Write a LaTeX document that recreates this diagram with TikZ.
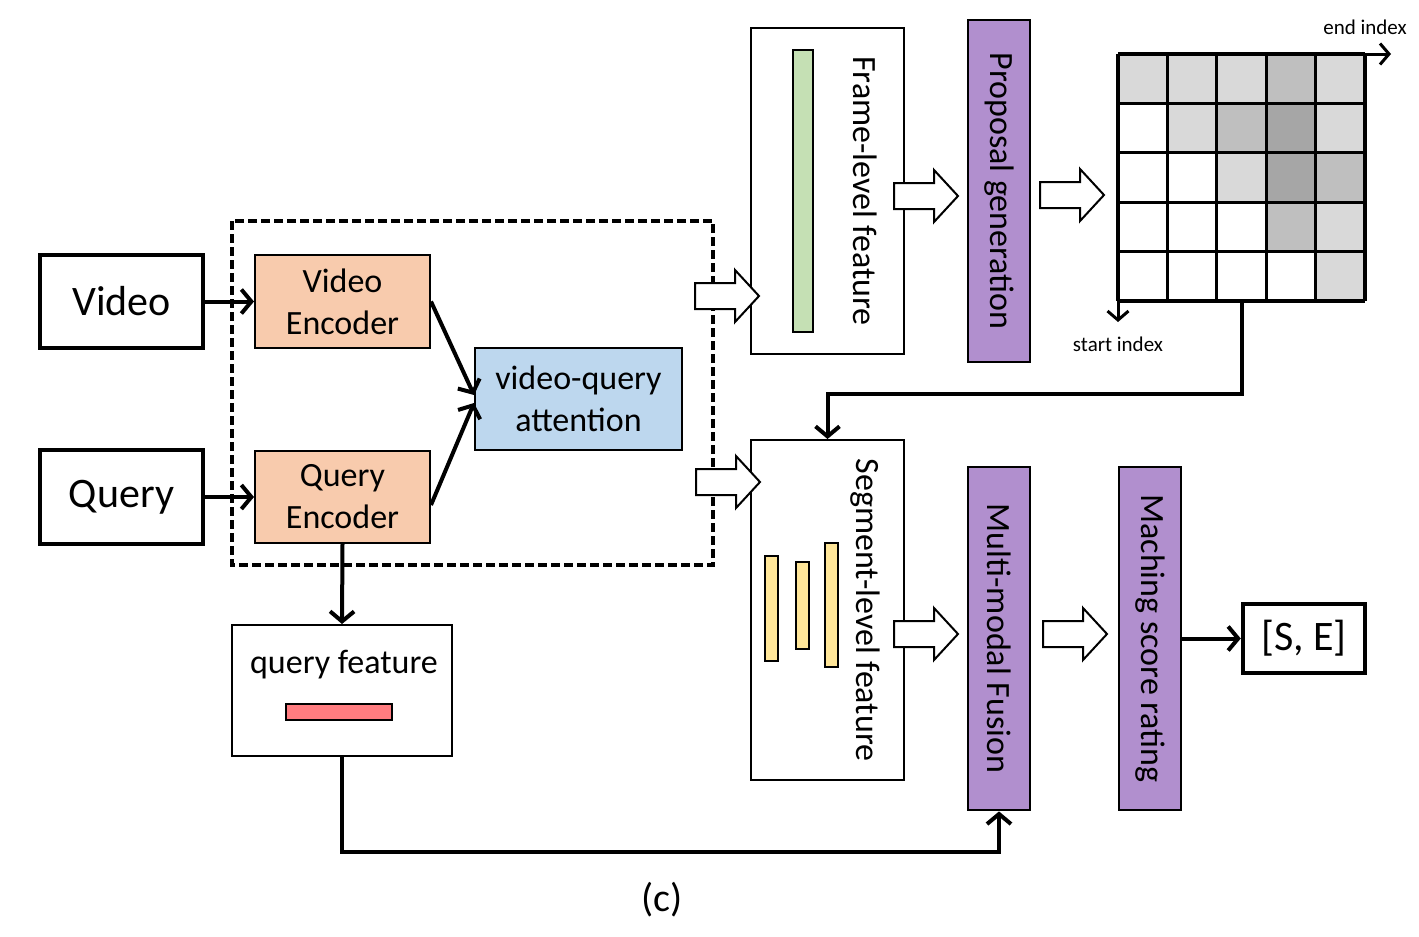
\documentclass[tikz,border=0pt]{standalone}
\usepackage{fontspec}
\setmainfont{Carlito}
\usepackage{graphicx}
\usetikzlibrary{arrows.meta}
\definecolor{encfill}{HTML}{F8CBAD}
\definecolor{attfill}{HTML}{BDD7EE}
\definecolor{framefill}{HTML}{C5E0B4}
\definecolor{segfill}{HTML}{FFE699}
\definecolor{stepfill}{HTML}{B18FCE}
\definecolor{qfill}{HTML}{FF7C80}
\definecolor{g1}{HTML}{D9D9D9}
\definecolor{g2}{HTML}{BFBFBF}
\definecolor{g3}{HTML}{A6A6A6}
\newcommand{\hollowarrow}[2]{\draw[line width=2pt, fill=white] (#1,#2-13) -- ++(40,0) -- ++(0,-13) -- ++(24,26) -- ++(-24,26) -- ++(0,-13) -- ++(-40,0) -- cycle;}

\begin{document}
\begin{tikzpicture}[x=1pt,y=-1pt,
    bigbox/.style={draw, line width=4.5pt, inner sep=0pt, font=\fontsize{42}{48}\selectfont},
    smallbox/.style={draw, line width=2pt, inner sep=0pt, align=center, font=\fontsize{34}{42}\selectfont},
    stepbox/.style={draw, line width=2.8pt, fill=stepfill, inner sep=0pt, minimum width=62, font=\fontsize{34}{42}\selectfont},
    bar/.style={draw, line width=2.4pt, inner sep=0pt},
    arr/.style={line width=4pt, -{Straight Barb[length=10pt,width=24pt]}},
    dashbox/.style={line width=3.5pt, dash pattern=on 9pt off 4pt}]
  \useasboundingbox (0,0) rectangle (1419,937);

  % inputs and encoders
  \node (vid) at (121.5,301.5) [bigbox, minimum width=163, minimum height=93] {Video};
  \node (qry) at (121.5,497) [bigbox, minimum width=163, minimum height=94] {Query};
  \node (venc) at (342.5,301.5) [smallbox, fill=encfill, minimum width=175, minimum height=93] {Video\\Encoder};
  \node (qenc) at (342.5,497) [smallbox, fill=encfill, minimum width=175, minimum height=92] {Query\\Encoder};
  \node (att) at (578.5,399) [smallbox, fill=attfill, minimum width=207, minimum height=102] {video-query\\attention};
  \draw[dashbox] (232,221) rectangle (713,565);

  % query feature
  \node (qf) at (342,690.5) [smallbox, minimum width=220, minimum height=131] {};
  \node (qflabel) at (344,665) [font=\fontsize{34}{42}\selectfont] {query feature};
  \node (qbar) at (339,712) [bar, fill=qfill, minimum width=106, minimum height=16] {};

  % frame-level branch
  \node (frame) at (827.5,191) [smallbox, minimum width=153, minimum height=326] {};
  \node (fbar) at (803,191) [bar, fill=framefill, minimum width=20, minimum height=282] {};
  \node (flabel) at (865,191) [font=\fontsize{34}{42}\selectfont] {\rotatebox{-90}{Frame-level feature}};
  \node (prop) at (999,191) [stepbox, minimum height=342] {\rotatebox{-90}{Proposal generation}};

  % segment-level branch
  \node (seg) at (827.5,610) [smallbox, minimum width=153, minimum height=340] {};
  \node (sbar1) at (771.5,608.5) [bar, fill=segfill, minimum width=13, minimum height=105] {};
  \node (sbar2) at (802.5,605.5) [bar, fill=segfill, minimum width=13, minimum height=87] {};
  \node (sbar3) at (831.5,605) [bar, fill=segfill, minimum width=13, minimum height=124] {};
  \node (slabel) at (865,610) [font=\fontsize{34}{42}\selectfont] {\rotatebox{-90}{Segment-level feature}};
  \node (fus) at (999,638.5) [stepbox, minimum height=343] {\rotatebox{-90}{Multi-modal Fusion}};
  \node (rate) at (1150,638.5) [stepbox, minimum height=343] {\rotatebox{-90}{Maching score rating}};
  \node (se) at (1304,638.5) [bigbox, minimum width=122, minimum height=69] {[S, E]};

  % proposal map
  \foreach \shades [count=\r from 0] in {{g1,g1,g1,g2,g1},{white,g1,g2,g3,g1},{white,white,g1,g3,g2},{white,white,white,g2,g1},{white,white,white,white,g1}}
    \foreach \s [count=\c from 0] in \shades
      \fill[\s] (1118+49.4*\c,54+49.4*\r) rectangle ++(49.4,49.4);
  \foreach \i in {0,...,5} {
    \draw[line width=3.2pt] (1118+49.4*\i,54) -- (1118+49.4*\i,301);
    \draw[line width=3.2pt] (1118,54+49.4*\i) -- (1365,54+49.4*\i);
  }
  \coordinate (gridNE) at (1365,54);
  \coordinate (endtip) at (1391,54);
  \coordinate (gridSW) at (1118,301);
  \coordinate (starttip) at (1118,322);
  \coordinate (gridout) at (1242,301);
  \node (endlabel) at (1365,27) [font=\fontsize{21}{25}\selectfont] {end index};
  \node (startlabel) at (1118,344) [font=\fontsize{21}{25}\selectfont] {start index};
  \draw[line width=3pt, -{Straight Barb[length=9pt,width=21pt]}] (gridNE) -- (endtip);
  \draw[line width=3pt, -{Straight Barb[length=9pt,width=21pt]}] (gridSW) -- (starttip);

  % hollow arrows
  \hollowarrow{695}{296}
  \hollowarrow{696}{482}
  \hollowarrow{894}{196}
  \hollowarrow{1040}{195}
  \hollowarrow{894}{634}
  \hollowarrow{1043}{634}

  % connectors
  \draw[arr] (vid) -- (venc);
  \draw[arr] (qry) -- (qenc);
  \draw[arr] (venc.east) -- ([yshift=4pt]att.west);
  \draw[arr] ([yshift=-8pt]qenc.east) -- ([yshift=-4pt]att.west);
  \draw[arr] (qenc.south) -- (qf.north);
  \draw[arr] (gridout) -- (gridout |- 0,394) -| (seg.north);
  \draw[arr] (qf.south) -- ++(0,95) -| (fus.south);
  \draw[arr] (rate) -- (se);

  \node (caption) at (662,900) [font=\fontsize{40}{46}\selectfont] {(c)};
\end{tikzpicture}
\end{document}
